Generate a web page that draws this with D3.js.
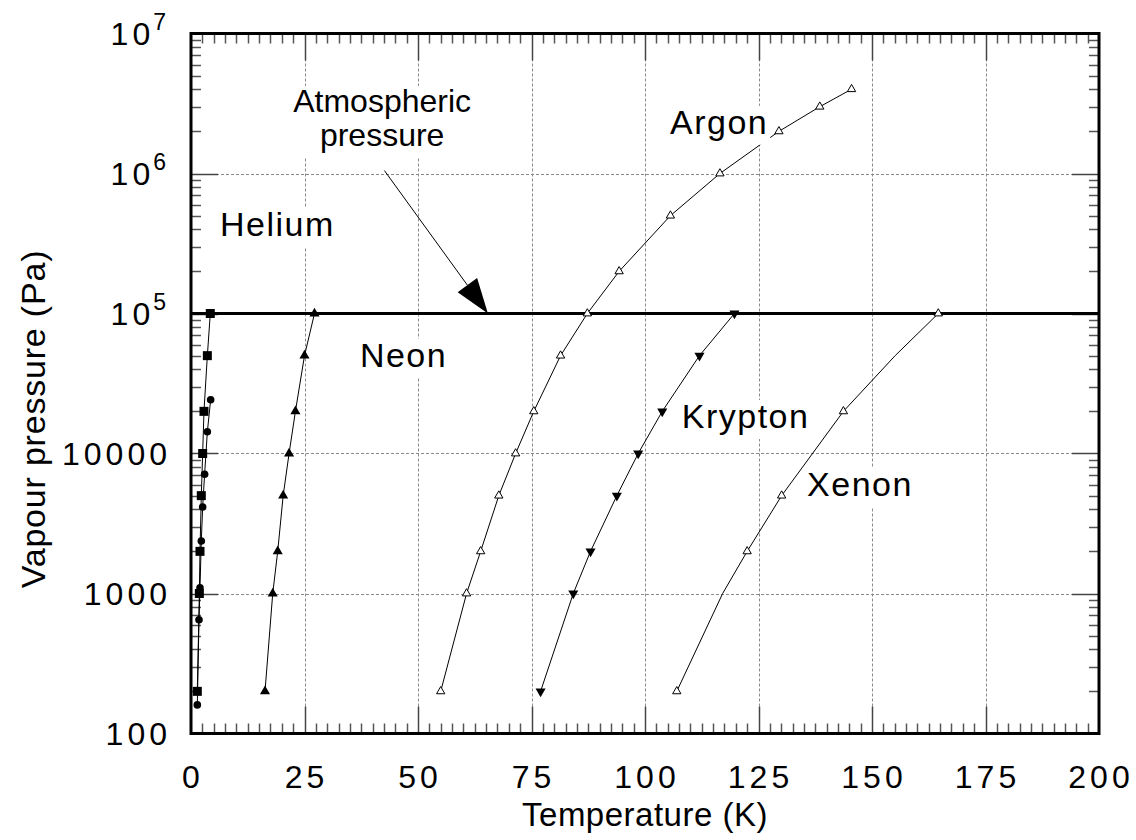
<!DOCTYPE html>
<html>
<head>
<meta charset="utf-8">
<script src="https://cdn.jsdelivr.net/npm/d3@7"></script>
<style>
  body { margin: 0; background: #fff; }
  text { font-family: "Liberation Sans", Arial, Helvetica, sans-serif; fill: #000; }
</style>
</head>
<body>
<script>
// Vapour pressure of the noble gases versus temperature
const xTickValues = [0, 25, 50, 75, 100, 125, 150, 175, 200];
const yTickValues = [100, 1000, 10000, 1e5, 1e6, 1e7];
const yTickBase   = ["100", "1000", "10000", "10", "10", "10"];
const yTickExp    = ["", "", "", "5", "6", "7"];

const atmosphericPressure = 1e5;

// Helium (two data sets)
const heliumT  = [1.39, 1.84, 1.98, 2.27, 2.57, 2.86, 3.6, 4.25];
const heliumP  = [200, 1000, 2000, 5000, 10000, 20000, 50000, 100000];
const helium2T = [1.39, 1.76, 1.98, 2.27, 2.57, 3.0, 3.6, 4.33];
const helium2P = [160, 650, 1100, 2370, 4150, 7100, 14300, 24200];

const neonT = [16.3, 18.0, 19.1, 20.3, 21.6, 23.0, 25.0, 27.2];
const neonP = [200, 1000, 2000, 5000, 10000, 20000, 50000, 100000];

const argonT = [55.0, 60.7, 63.8, 67.8, 71.5, 75.5, 81.4, 87.3, 94.3, 105.6, 116.5, 129.5, 138.5, 145.5];
const argonP = [200, 1000, 2000, 5000, 10000, 20000, 50000, 100000, 200000, 500000, 1e6, 2e6, 3e6, 4e6];

const kryptonT = [77.0, 84.2, 88.0, 93.8, 98.5, 103.8, 112.0, 119.7];
const kryptonP = [200, 1000, 2000, 5000, 10000, 20000, 50000, 100000];

const xenonT = [107.0, 117.1, 122.5, 130.1, 143.7, 155.1, 164.6];
const xenonP = [200, 1000, 2000, 5000, 20000, 50000, 100000];
const xenonMarked = [true, false, true, true, true, false, true];

const W = 1136, H = 840;
const plot = { left: 191, right: 1099, top: 33.5, bottom: 733.5 };

const x = d3.scaleLinear().domain([0, 200]).range([plot.left, plot.right]);
const y = d3.scaleLog().domain([100, 1e7]).range([plot.bottom, plot.top]);

const svg = d3.select("body").append("svg")
  .attr("width", W).attr("height", H);

// ---- grid ----
const grid = svg.append("g")
  .attr("stroke", "#8a8a8a").attr("stroke-width", 1).attr("stroke-dasharray", "3,2");
grid.selectAll("line.gx").data(xTickValues.slice(1, -1)).join("line")
  .attr("x1", d => Math.round(x(d)) + 0.5).attr("x2", d => Math.round(x(d)) + 0.5)
  .attr("y1", plot.top).attr("y2", plot.bottom);
grid.selectAll("line.gy").data(yTickValues.slice(1, -1)).join("line")
  .attr("y1", d => Math.round(y(d)) + 0.5).attr("y2", d => Math.round(y(d)) + 0.5)
  .attr("x1", plot.left).attr("x2", plot.right);

// ---- ticks on all four sides, pointing inward ----
const majorLen = 27, minorLen = 10;
const xMinor = d3.range(2.5, 200, 2.5).filter(v => Math.abs(v % 25) > 1e-6);
const yMinor = [];
[100, 1000, 10000, 1e5, 1e6].forEach(d => { for (let k = 2; k <= 9; k++) yMinor.push(d * k); });

const ticks = svg.append("g").attr("stroke-width", 1.5);
function xTickLines(vals, len, color) {
  vals.forEach(v => {
    const px = Math.round(x(v)) + 0.5;
    ticks.append("line").attr("stroke", color)
      .attr("x1", px).attr("x2", px).attr("y1", plot.bottom).attr("y2", plot.bottom - len);
    ticks.append("line").attr("stroke", color)
      .attr("x1", px).attr("x2", px).attr("y1", plot.top).attr("y2", plot.top + len);
  });
}
function yTickLines(vals, len, color) {
  vals.forEach(v => {
    const py = Math.round(y(v)) + 0.5;
    ticks.append("line").attr("stroke", color)
      .attr("y1", py).attr("y2", py).attr("x1", plot.left).attr("x2", plot.left + len);
    ticks.append("line").attr("stroke", color)
      .attr("y1", py).attr("y2", py).attr("x1", plot.right).attr("x2", plot.right - len);
  });
}
xTickLines(xMinor, minorLen, "#555");
yTickLines(yMinor, minorLen, "#555");
xTickLines(xTickValues.slice(1, -1), majorLen, "#444");
yTickLines(yTickValues.slice(1, -1), majorLen, "#444");

// ---- atmospheric pressure line ----
svg.append("line")
  .attr("x1", plot.left).attr("x2", plot.right)
  .attr("y1", y(atmosphericPressure)).attr("y2", y(atmosphericPressure))
  .attr("stroke", "#000").attr("stroke-width", 3);

// ---- series ----
const zip = (T, P) => T.map((t, i) => ({ t, p: P[i], i }));
const series = [
  { name: "helium",   data: zip(heliumT, heliumP),   marker: "square" },
  { name: "helium2",  data: zip(helium2T, helium2P), marker: "circle" },
  { name: "neon",     data: zip(neonT, neonP),       marker: "triUp" },
  { name: "argon",    data: zip(argonT, argonP),     marker: "triOpen" },
  { name: "krypton",  data: zip(kryptonT, kryptonP), marker: "triDown" },
  { name: "xenon",    data: zip(xenonT, xenonP),     marker: "triOpen", marked: xenonMarked }
];

const line = d3.line().x(d => x(d.t)).y(d => y(d.p));
const linesG = svg.append("g");
series.forEach(s => {
  linesG.append("path").datum(s.data)
    .attr("d", line).attr("fill", "none")
    .attr("stroke", "#000").attr("stroke-width", 1);
});

// ---- curve labels (white background hides what runs behind them) ----
const labels = [
  { lines: ["Atmospheric", "pressure"], t: 42.1, p: 2.75e6, anchor: "middle", size: 32, ls: 0 },
  { lines: ["Helium"],  t: 6.4,   p: 3.58e5, anchor: "start", size: 34, ls: 1.5 },
  { lines: ["Neon"],    t: 37.2,  p: 4.15e4, anchor: "start", size: 34, ls: 1.5 },
  { lines: ["Argon"],   t: 105.5, p: 1.92e6, anchor: "start", size: 34, ls: 1.5 },
  { lines: ["Krypton"], t: 108.1, p: 1.52e4, anchor: "start", size: 34, ls: 1.5 },
  { lines: ["Xenon"],   t: 135.7, p: 4.97e3, anchor: "start", size: 34, ls: 1.5 }
];
const labelG = svg.append("g");
labels.forEach(l => {
  const g = labelG.append("g");
  const bg = g.append("rect").attr("fill", "#fff");
  const txt = g.append("text")
    .attr("x", x(l.t)).attr("y", y(l.p))
    .attr("text-anchor", l.anchor)
    .attr("font-size", l.size)
    .attr("letter-spacing", l.ls);
  l.lines.forEach((s, i) => {
    txt.append("tspan").attr("x", x(l.t)).attr("dy", i === 0 ? 0 : 34).text(s);
  });
  const b = txt.node().getBBox();
  bg.attr("x", b.x - 2).attr("y", b.y + 3).attr("width", b.width + 4).attr("height", b.height + 1);
});

// ---- markers ----
const markG = svg.append("g");
const triUp = d3.symbol().type(d3.symbolTriangle).size(44)();
const triOpen = d3.symbol().type(d3.symbolTriangle).size(30)();
series.forEach(s => {
  const pts = s.data.filter(d => !s.marked || s.marked[d.i]);
  pts.forEach(d => {
    const px = x(d.t), py = y(d.p);
    if (s.marker === "square") {
      markG.append("rect").attr("x", px - 4.5).attr("y", py - 4.5)
        .attr("width", 9).attr("height", 9).attr("fill", "#000");
    } else if (s.marker === "circle") {
      markG.append("circle").attr("cx", px).attr("cy", py).attr("r", 3.8).attr("fill", "#000");
    } else if (s.marker === "triUp") {
      markG.append("path").attr("d", triUp)
        .attr("transform", `translate(${px},${py})`).attr("fill", "#000");
    } else if (s.marker === "triDown") {
      markG.append("path").attr("d", triUp)
        .attr("transform", `translate(${px},${py}) rotate(180)`).attr("fill", "#000");
    } else {
      markG.append("path").attr("d", triOpen)
        .attr("transform", `translate(${px},${py})`)
        .attr("fill", "#fff").attr("stroke", "#000").attr("stroke-width", 1);
    }
  });
});

// ---- arrow pointing at atmospheric pressure ----
const tip = [x(65.4), y(atmosphericPressure)];
const tail = [x(42.6), y(1.05e6)];
const dx = tip[0] - tail[0], dy = tip[1] - tail[1];
const len = Math.hypot(dx, dy), ux = dx / len, uy = dy / len;
const headLen = 35, headHalf = 12;
const base = [tip[0] - ux * headLen, tip[1] - uy * headLen];
svg.append("line")
  .attr("x1", tail[0]).attr("y1", tail[1]).attr("x2", base[0]).attr("y2", base[1])
  .attr("stroke", "#000").attr("stroke-width", 1);
svg.append("path")
  .attr("d", `M${tip[0]},${tip[1]}L${base[0] - uy * headHalf},${base[1] + ux * headHalf}L${base[0] + uy * headHalf},${base[1] - ux * headHalf}Z`)
  .attr("fill", "#000");

// ---- frame ----
svg.append("rect")
  .attr("x", plot.left).attr("y", plot.top)
  .attr("width", plot.right - plot.left).attr("height", plot.bottom - plot.top)
  .attr("fill", "none").attr("stroke", "#000").attr("stroke-width", 3);

// ---- tick labels ----
const tickFont = 32, tickLS = 4;
svg.append("g").selectAll("text").data(xTickValues).join("text")
  .attr("x", d => x(d) + tickLS / 2).attr("y", plot.bottom + 54)
  .attr("text-anchor", "middle").attr("font-size", tickFont)
  .attr("letter-spacing", tickLS)
  .text(d => d);

const yLab = svg.append("g");
yTickValues.forEach((v, i) => {
  const t = yLab.append("text")
    .attr("y", y(v) + 11.5)
    .attr("font-size", tickFont);
  t.append("tspan").attr("letter-spacing", tickLS).text(yTickBase[i]);
  if (yTickExp[i]) {
    t.append("tspan").attr("font-size", 23).attr("dy", -15).attr("dx", -1)
      .attr("letter-spacing", 0).text(yTickExp[i]);
  }
  const w = t.node().getComputedTextLength();
  const trail = yTickExp[i] ? 0 : tickLS;
  t.attr("x", 167 - w + trail);
});

// ---- axis titles ----
svg.append("text")
  .attr("x", (plot.left + plot.right) / 2).attr("y", 826)
  .attr("text-anchor", "middle").attr("font-size", 33).attr("letter-spacing", 0.5)
  .text("Temperature (K)");
svg.append("text")
  .attr("transform", "translate(45,419) rotate(-90)")
  .attr("text-anchor", "middle").attr("font-size", 34).attr("letter-spacing", 0.8)
  .text("Vapour pressure (Pa)");
</script>
</body>
</html>
